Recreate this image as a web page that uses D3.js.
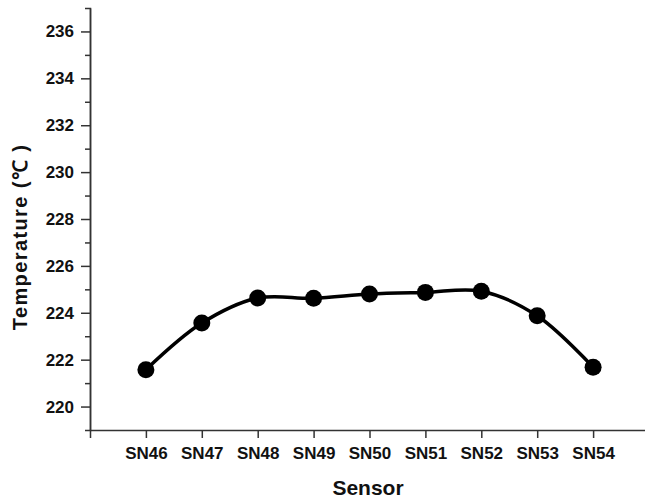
<!DOCTYPE html>
<html>
<head>
<meta charset="utf-8">
<script src="https://cdn.jsdelivr.net/npm/d3@7"></script>
<style>
  body { margin: 0; background: #fff; }
  svg { display: block; font-family: "Liberation Sans", Arial, sans-serif; font-weight: bold; }
</style>
</head>
<body>
<div id="viz"></div>
<script>
// values
var sensors = ["SN46", "SN47", "SN48", "SN49", "SN50", "SN51", "SN52", "SN53", "SN54"];
var temps = [221.57, 223.56, 224.63, 224.62, 224.80, 224.87, 224.92, 223.87, 221.68];
var majorTicks = [220, 222, 224, 226, 228, 230, 232, 234, 236];
var minorTicks = [221, 223, 225, 227, 229, 231, 233, 235];

var width = 645, height = 502;
var plotLeft = 90, plotRight = 649, plotTop = 8, plotBottom = 430;
var axisColor = "#333";
var markColor = "#000";

var svg = d3.select("#viz").append("svg")
	.attr("width", width)
	.attr("height", height);

var x = d3.scaleLinear()
	.domain([-1, sensors.length])
	.range([plotLeft, plotRight]);

var y = d3.scaleLinear()
	.domain([219, 237])
	.range([plotBottom, plotTop]);

var styleAxis = function(g){
	g.select(".domain").attr("stroke", axisColor).attr("stroke-width", 1.5);
	g.selectAll(".tick line").attr("stroke", axisColor).attr("stroke-width", 1.5);
	g.selectAll(".tick text")
		.attr("fill", "#111")
		.style("font-family", "'Liberation Sans', Arial, sans-serif")
		.style("font-weight", "bold");
};

// x axis
svg.append("g")
	.attr("transform", "translate(0," + plotBottom + ")")
	.call(d3.axisBottom(x)
		.tickValues(d3.range(sensors.length))
		.tickFormat(function(d){ return sensors[d]; })
		.tickSize(8)
		.tickSizeOuter(8)
		.tickPadding(9))
	.call(styleAxis)
	.selectAll(".tick text").style("font-size", "17px");

// y axis, minor ticks first then the labelled ones
svg.append("g")
	.attr("transform", "translate(" + plotLeft + ",0)")
	.call(d3.axisLeft(y)
		.tickValues(minorTicks)
		.tickFormat("")
		.tickSize(5)
		.tickSizeOuter(5))
	.call(styleAxis);

svg.append("g")
	.attr("transform", "translate(" + plotLeft + ",0)")
	.call(d3.axisLeft(y)
		.tickValues(majorTicks)
		.tickFormat(d3.format("d"))
		.tickSize(9)
		.tickSizeOuter(0)
		.tickPadding(7))
	.call(styleAxis)
	.selectAll(".tick text").style("font-size", "17px");

// line + markers
var line = d3.line()
	.x(function(d, i){ return x(i); })
	.y(function(d){ return y(d); })
	.curve(d3.curveCatmullRom);

svg.append("path")
	.datum(temps)
	.attr("d", line)
	.attr("fill", "none")
	.attr("stroke", markColor)
	.attr("stroke-width", 3.5);

svg.selectAll(".pt")
	.data(temps)
	.enter()
	.append("circle")
	.attr("class", "pt")
	.attr("cx", function(d, i){ return x(i); })
	.attr("cy", function(d){ return y(d); })
	.attr("r", 8.5)
	.attr("fill", markColor);

// axis titles
svg.append("text")
	.attr("x", 368)
	.attr("y", 495)
	.attr("text-anchor", "middle")
	.style("font-size", "21px")
	.attr("fill", "#111")
	.text("Sensor");

svg.append("text")
	.attr("transform", "translate(27,237) rotate(-90)")
	.attr("text-anchor", "middle")
	.style("font-size", "20px")
	.style("letter-spacing", "1.4px")
	.attr("fill", "#111")
	.text("Temperature (℃ )");
</script>
</body>
</html>
